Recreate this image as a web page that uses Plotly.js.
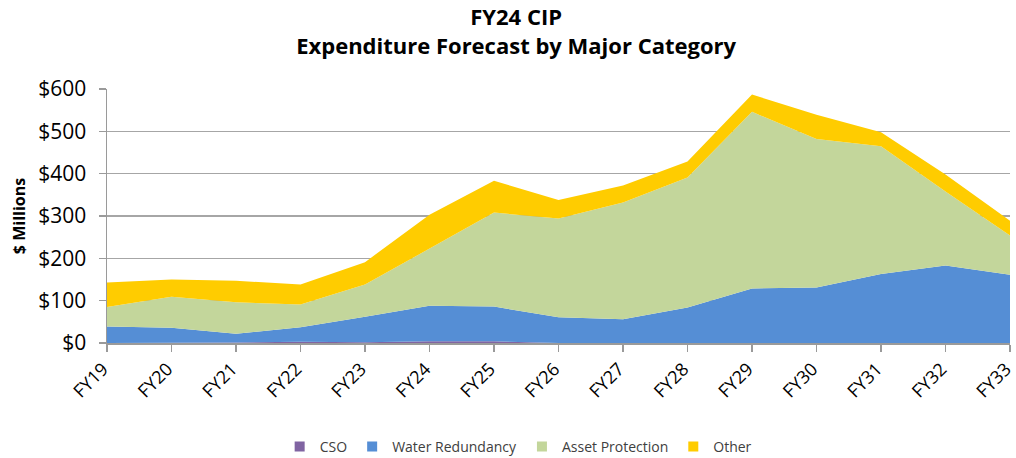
<!DOCTYPE html>
<html>
<head>
<meta charset="utf-8">
<script src="https://cdn.plot.ly/plotly-3.0.1.min.js"></script>
<style>html,body{margin:0;padding:0;background:#fff;}#chart{width:1016px;height:458px;}</style>
</head>
<body>
<div id="chart"></div>
<script>
const categories = ["FY19","FY20","FY21","FY22","FY23","FY24","FY25","FY26","FY27","FY28","FY29","FY30","FY31","FY32","FY33"];
const cso = [0,0,1,3,2,4,4,0,0,0,0,0,0,0,0];
const waterRedundancy = [39,36,21,34,60,84,82,61,56,84,129,131,163,183,161];
const assetProtection = [46,73,74,54,76,136,222,233,276,307,417,351,302,175,93];
const other = [58,41,51,47,53,79,75,44,40,38,41,57,33,40,35];
const yTicks = [0,100,200,300,400,500,600];
const seriesNames = ['CSO','Water Redundancy','Asset Protection','Other'];
const seriesColors = ['#8064A2','#558ED5','#C3D69B','#FFCC00'];

const FONT = "Open Sans, Liberation Sans, sans-serif";
const values = [cso, waterRedundancy, assetProtection, other];
const data = [];
values.forEach((y,i)=>{
  data.push({type:'scatter', mode:'lines', name:seriesNames[i], x:categories, y:y,
    stackgroup:'one', fillcolor:seriesColors[i], line:{width:0, color:seriesColors[i]},
    showlegend:false, hoverinfo:'x+y+name'});
});
// legend entries (square swatches)
values.forEach((y,i)=>{
  data.push({type:'scatter', mode:'markers', name:seriesNames[i], x:[null], y:[null],
    marker:{symbol:'square', size:10, color:seriesColors[i]}, showlegend:true, hoverinfo:'skip'});
});
const layout = {
  width:1016, height:458,
  margin:{l:107, r:6, t:89, b:115},
  paper_bgcolor:'#fff', plot_bgcolor:'#fff',
  font:{family:FONT, color:'#000'},
  title:{text:'<b>FY24 CIP</b><br><b>Expenditure Forecast by Major Category</b>',
    font:{family:FONT, size:22, color:'#000'}, x:0.508, xanchor:'center', xref:'container',
    y:0.945, yanchor:'middle', yref:'container'},
  xaxis:{type:'category', range:[0,14], showgrid:false, showline:true, linecolor:'#9a9a9a', linewidth:1.5,
    ticks:'outside', ticklen:7, tickcolor:'#9a9a9a', tickwidth:1.5, tickangle:-45, ticklabelshift:-4,
    tickfont:{family:FONT, size:18, color:'#000'}, zeroline:false, fixedrange:true},
  yaxis:{range:[0,600], tickvals:yTicks, ticktext:yTicks.map(v=>'$'+v), showgrid:true, gridcolor:'#a6a6a6', gridwidth:1.5,
    showline:true, linecolor:'#9a9a9a', linewidth:1.5, ticks:'outside', ticklen:7, tickcolor:'#9a9a9a', tickwidth:1.5,
    ticklabelstandoff:8,
    tickfont:{family:FONT, size:21, color:'#000'}, zeroline:false,
    title:{text:'<b>$ Millions</b>', font:{family:FONT, size:16, color:'#000'}, standoff:8}},
  legend:{orientation:'h', xref:'container', yref:'container', x:0.51, xanchor:'center', y:0.024, yanchor:'middle',
    font:{family:FONT, size:14, color:'#404040'}, traceorder:'normal', itemwidth:30, tracegroupgap:0},
  showlegend:true
};
Plotly.newPlot('chart', data, layout, {displayModeBar:false, staticPlot:true});
</script>
</body>
</html>
